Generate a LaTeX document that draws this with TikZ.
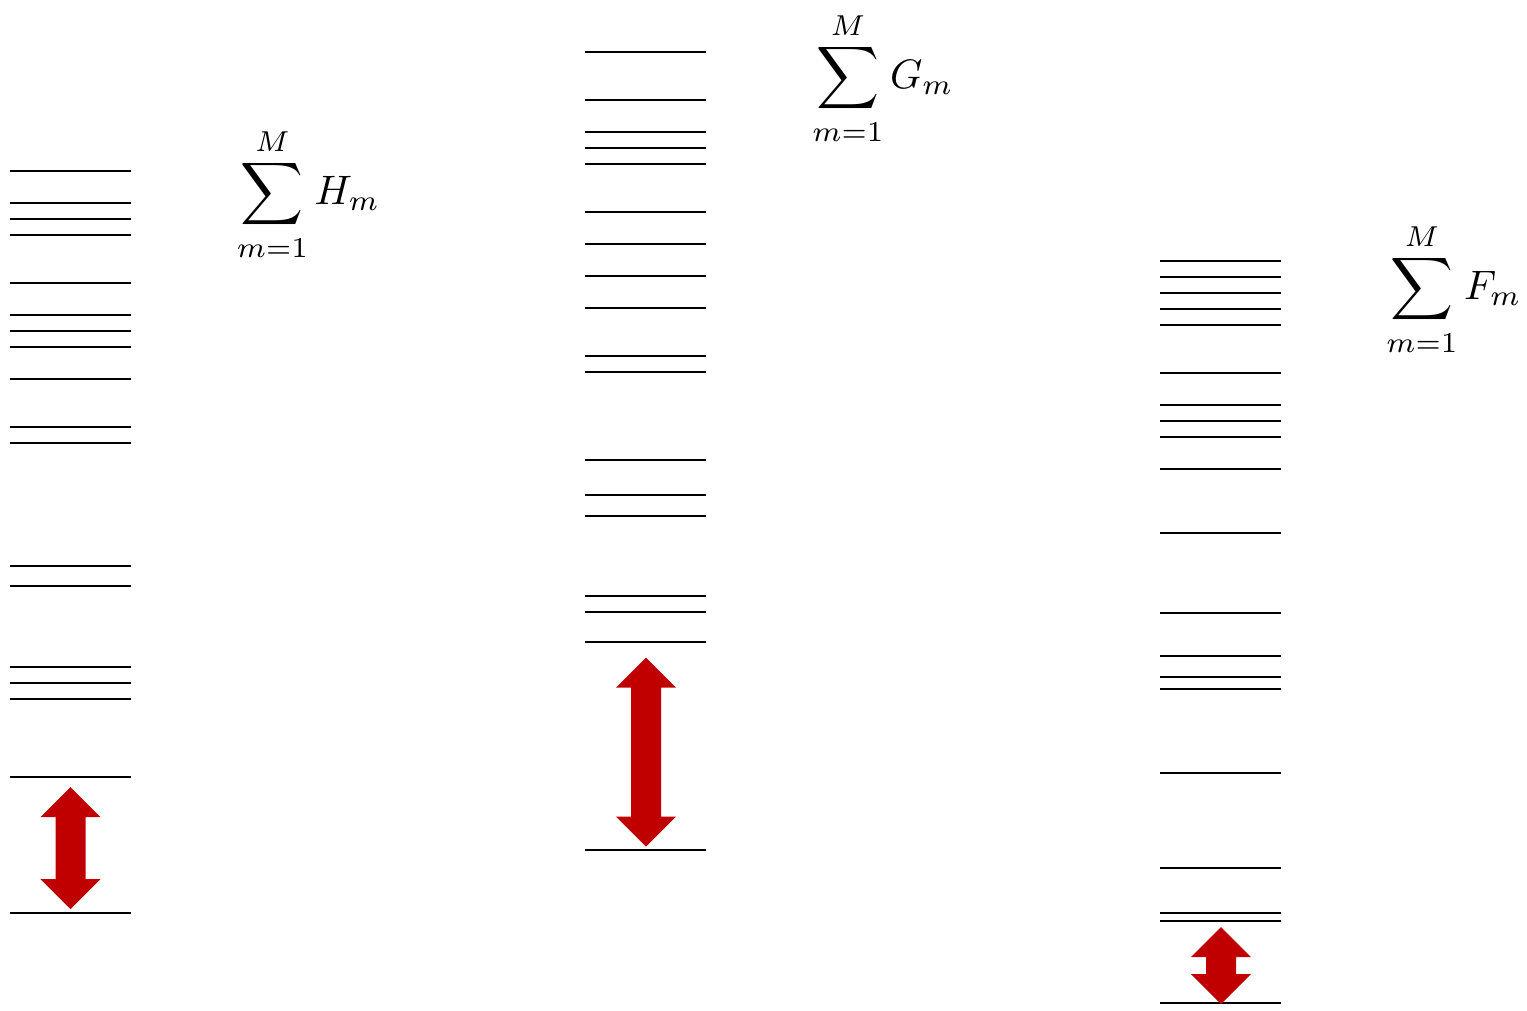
\documentclass[tikz,border=0pt]{standalone}
\usetikzlibrary{calc}
\definecolor{gapred}{RGB}{192,0,0}
\tikzset{
  level/.style={line width=0.65pt, black},
  gaparrow/.style={fill=gapred, draw=none},
  sumlabel/.style={inner sep=0pt, anchor=center}
}
% double-headed arrow: centre x, top y, bottom y
\newcommand{\gaparrowdraw}[3]{%
  \fill[gaparrow] (#1,#2) -- (#1+30,#2+30) -- (#1+15,#2+30) -- (#1+15,#3-30)
    -- (#1+30,#3-30) -- (#1,#3) -- (#1-30,#3-30) -- (#1-15,#3-30)
    -- (#1-15,#2+30) -- (#1-30,#2+30) -- cycle;}
% sum over m with a slightly enlarged sigma
\newcommand{\sigmabig}{\mathop{\vcenter{\hbox{\scalebox{1.06}{$\displaystyle\sum$}}}}}
\newcommand{\bigsum}[1]{\scalebox{1.44}{$\displaystyle
  \sigmabig\limits_{\rule{0pt}{5.3pt}m=1}^{\rule[-0.8pt]{0pt}{1pt}M} #1_m$}}
\begin{document}
\begin{tikzpicture}[x=0.35pt, y=-0.35pt]
\useasboundingbox (0,0) rectangle (1527,1010);

% first spectrum
\foreach \yy in {171,203,219,235,283,315,331,347,379,427,443,566,586,667,683,699,777,913}
  \draw[level] (10,\yy) -- (131,\yy);
\gaparrowdraw{70.5}{787}{909}
\node[sumlabel] (lh) at (308.5,194.5) {\bigsum{H}};

% second spectrum
\foreach \yy in {52,100,132,148,164,212,244,276,308,356,372,460,495,516,596,612,642,850}
  \draw[level] (585,\yy) -- (706,\yy);
\gaparrowdraw{646}{657.5}{846.5}
\node[sumlabel] (lg) at (883,78.5) {\bigsum{G}};

% third spectrum
\foreach \yy in {261,277,293,309,325,373,405,421,437,469,533,613,656,677,689,773,868,913,921,1003}
  \draw[level] (1160,\yy) -- (1281,\yy);
\gaparrowdraw{1221}{927}{1004}
\node[sumlabel] (lf) at (1454,289.5) {\bigsum{F}};
\end{tikzpicture}
\end{document}
